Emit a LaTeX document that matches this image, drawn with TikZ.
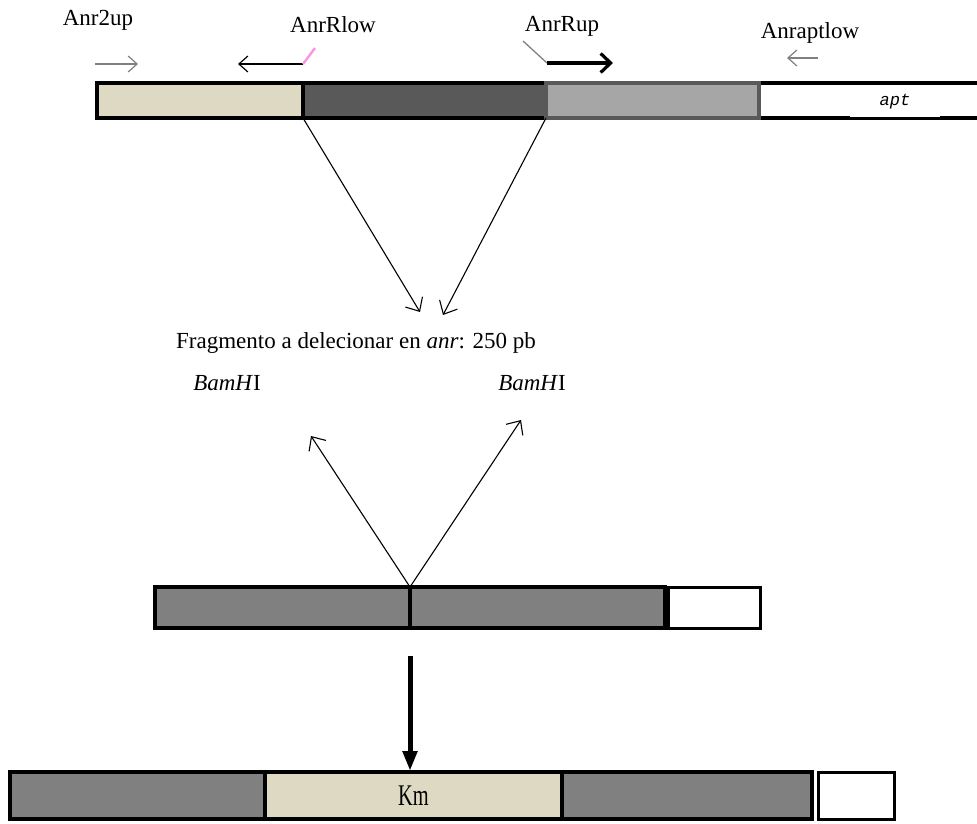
\documentclass[tikz,border=0pt]{standalone}
\usepackage{fontspec}
\setmainfont{Liberation Serif}
\setmonofont{Liberation Mono}
\usetikzlibrary{arrows.meta}
\definecolor{beige}{RGB}{221,217,195}
\definecolor{darkg}{RGB}{89,89,89}
\definecolor{lightg}{RGB}{166,166,166}
\definecolor{midg}{RGB}{128,128,128}
\definecolor{pinkc}{RGB}{250,150,225}
\begin{document}
\begin{tikzpicture}[x=1pt,y=-1pt,
  seg/.style={draw=black,line width=3.8pt,inner sep=0pt,outer sep=0pt},
  thinseg/.style={draw=black,line width=3pt,inner sep=0pt,outer sep=0pt},
  lab/.style={font=\fontsize{23}{26}\selectfont,inner sep=0pt},
  primer/.style={-{Straight Barb[length=9pt,width=16pt]},line width=1.2pt},
  conn/.style={-{Straight Barb[length=11pt,width=20pt]},line width=1.1pt}]
\useasboundingbox (0,0) rectangle (977,824);
% top bar
\node[seg,fill=beige,minimum width=206pt,minimum height=35pt] (b1) at (200,100.5) {};
\node[seg,fill=darkg,minimum width=243pt,minimum height=35pt] (b2) at (424.5,100.5) {};
\node[draw=darkg,line width=3.2pt,fill=lightg,inner sep=0pt,outer sep=0pt,minimum width=213pt,minimum height=35pt] (b3) at (652.5,100.5) {};
\coordinate (tr) at (977,83);
\coordinate (br) at (977,118);
\draw[line width=3.8pt] ([xshift=1.6pt]b3.north east) -- (tr);
\draw[line width=3.8pt] ([xshift=1.6pt]b3.south east) -- (br);
\node[fill=white,inner sep=0pt,minimum width=90pt,minimum height=31pt,font=\ttfamily\itshape\fontsize{17}{18}\selectfont] (apt) at (895,102) {apt};
% primer labels
\node[lab] (l1) at (98,20) {Anr2up};
\node[lab] (l2) at (333,25) {AnrRlow};
\node[lab] (l3) at (562,26) {AnrRup};
\node[lab] (l4) at (810,33) {Anraptlow};
% primer arrows
\coordinate (p1a) at (95,64); \coordinate (p1b) at (138,64);
\draw[primer,draw=gray] (p1a) -- (p1b);
\coordinate (p2a) at (303,64); \coordinate (p2b) at (238,64); \coordinate (p2c) at (315,48);
\draw[primer] (p2a) -- (p2b);
\draw[pinkc,line width=2.4pt] (p2a) -- (p2c);
\coordinate (p3a) at (523,41); \coordinate (p3b) at (547,63); \coordinate (p3c) at (613,63);
\draw[gray,line width=1.3pt] (p3a) -- (p3b);
\draw[-{Straight Barb[length=10pt,width=19pt]},line width=3.2pt] (p3b) -- (p3c);
\coordinate (p4a) at (818,58); \coordinate (p4b) at (787,58);
\draw[primer,draw=gray] (p4a) -- (p4b);
% fragment text
\node[lab] (frag) at (356,343) {Fragmento a delecionar en \textit{anr}: 250 pb};
\node[lab] (bam1) at (227,383) {\textit{BamH}I};
\node[lab] (bam2) at (532,383) {\textit{BamH}I};
\coordinate (t1) at (420,312);
\coordinate (t2) at (443,315);
\draw[conn] (b1.south east) -- (t1);
\draw[conn] (b2.south east) -- (t2);
% middle bar
\node[seg,fill=midg,minimum width=255pt,minimum height=41pt] (m1) at (282.5,607.5) {};
\node[seg,fill=midg,minimum width=255pt,minimum height=41pt] (m2) at (537.5,607.5) {};
\node[thinseg,fill=white,minimum width=92pt,minimum height=41pt] (m3) at (714,607.5) {};
\coordinate (a1) at (311,436);
\coordinate (a2) at (521,420);
\draw[conn] (m1.north east) -- (a1);
\draw[conn] (m1.north east) -- (a2);
% big arrow
\node[inner sep=0pt] (ks) at (410,655) {};
% bottom bar
\node[seg,fill=midg,minimum width=255pt,minimum height=47pt] (k1) at (137.5,795.5) {};
\node[seg,fill=beige,minimum width=297pt,minimum height=47pt,font=\fontsize{30}{32}\selectfont] (k2) at (413.5,795.5) {\scalebox{0.68}[1]{Km}};
\node[seg,fill=midg,minimum width=250pt,minimum height=47pt] (k3) at (687,795.5) {};
\node[thinseg,fill=white,minimum width=76pt,minimum height=47pt] (k4) at (856,795.5) {};
\draw[-{Triangle[length=20pt,width=14pt]},line width=5pt] (ks) -- ([xshift=-3.5pt,yshift=1pt]k2.north);
\end{tikzpicture}
\end{document}
